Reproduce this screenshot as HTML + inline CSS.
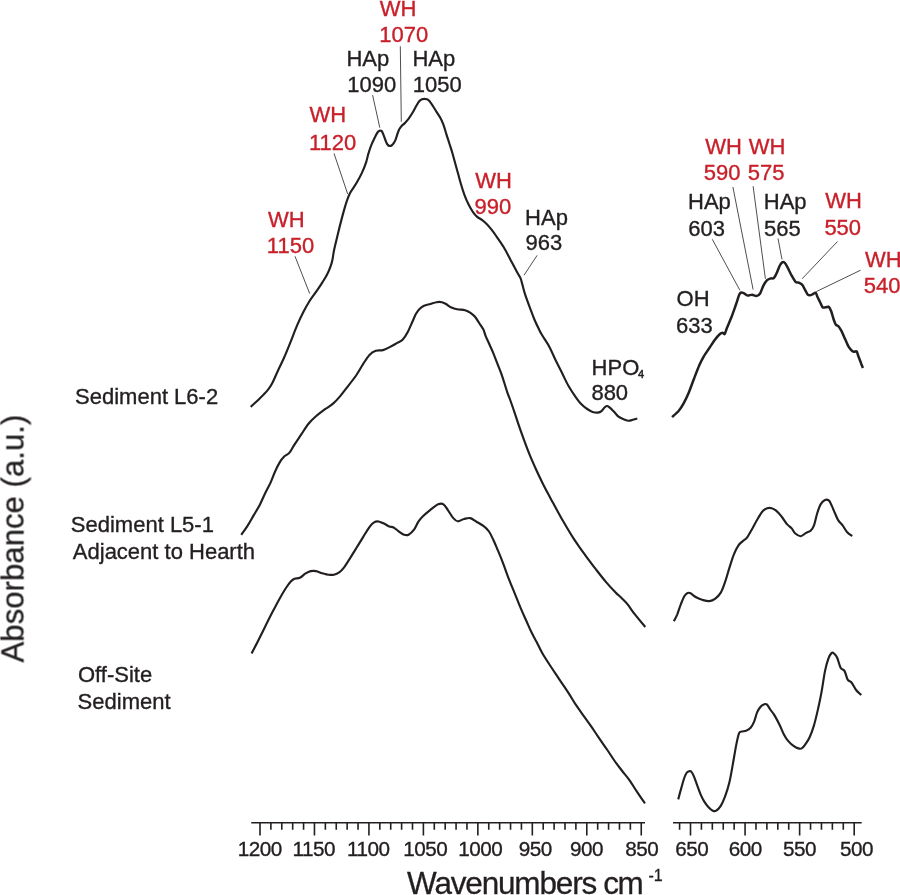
<!DOCTYPE html>
<html><head><meta charset="utf-8"><title>FTIR spectra</title>
<style>
html,body{margin:0;padding:0;background:#fff;}
body{width:900px;height:895px;overflow:hidden;font-family:"Liberation Sans",sans-serif;}
svg{display:block;}
.t{font-family:"Liberation Sans",sans-serif;}
.tick{font-size:20.7px;fill:#231f20;stroke:#231f20;stroke-width:0.35px;letter-spacing:-0.5px;}
.lab{font-size:22px;stroke-width:0.35px;}
</style></head><body>
<svg width="900" height="895" viewBox="0 0 900 895">
<rect width="900" height="895" fill="#fff"/>
<g opacity="0.999">
<path d="M251.25 822.8H645.00M260.00 822.8v12.6M270.89 822.8v7.0M281.79 822.8v7.0M292.68 822.8v7.0M303.57 822.8v7.0M314.46 822.8v12.6M325.36 822.8v7.0M336.25 822.8v7.0M347.14 822.8v7.0M358.04 822.8v7.0M368.93 822.8v12.6M379.82 822.8v7.0M390.71 822.8v7.0M401.61 822.8v7.0M412.50 822.8v7.0M423.39 822.8v12.6M434.29 822.8v7.0M445.18 822.8v7.0M456.07 822.8v7.0M466.96 822.8v7.0M477.86 822.8v12.6M488.75 822.8v7.0M499.64 822.8v7.0M510.54 822.8v7.0M521.43 822.8v7.0M532.32 822.8v12.6M543.21 822.8v7.0M554.11 822.8v7.0M565.00 822.8v7.0M575.89 822.8v7.0M586.79 822.8v12.6M597.68 822.8v7.0M608.57 822.8v7.0M619.46 822.8v7.0M630.36 822.8v7.0M641.25 822.8v12.6" fill="none" stroke="#231f20" stroke-width="1.6"/>
<path d="M673.00 822.8H861.70M679.59 822.8v7.0M690.50 822.8v12.6M701.41 822.8v7.0M712.33 822.8v7.0M723.24 822.8v7.0M734.15 822.8v7.0M745.07 822.8v12.6M755.98 822.8v7.0M766.89 822.8v7.0M777.81 822.8v7.0M788.72 822.8v7.0M799.63 822.8v12.6M810.55 822.8v7.0M821.46 822.8v7.0M832.37 822.8v7.0M843.29 822.8v7.0M854.20 822.8v12.6" fill="none" stroke="#231f20" stroke-width="1.6"/>
<text x="259.65" y="855.5" text-anchor="middle" class="t tick">1200</text>
<text x="313.85" y="855.5" text-anchor="middle" class="t tick">1150</text>
<text x="368.35" y="855.5" text-anchor="middle" class="t tick">1100</text>
<text x="425.25" y="855.5" text-anchor="middle" class="t tick">1050</text>
<text x="480.25" y="855.5" text-anchor="middle" class="t tick">1000</text>
<text x="535.25" y="855.5" text-anchor="middle" class="t tick">950</text>
<text x="586.55" y="855.5" text-anchor="middle" class="t tick">900</text>
<text x="641.65" y="855.5" text-anchor="middle" class="t tick">850</text>
<text x="691.65" y="855.5" text-anchor="middle" class="t tick">650</text>
<text x="745.35" y="855.5" text-anchor="middle" class="t tick">600</text>
<text x="799.55" y="855.5" text-anchor="middle" class="t tick">550</text>
<text x="856.45" y="855.5" text-anchor="middle" class="t tick">500</text>
<text x="379.67" y="16.0" class="t lab" fill="#c8202a" stroke="#c8202a">WH</text>
<text x="379.27" y="41.9" class="t lab" fill="#c8202a" stroke="#c8202a">1070</text>
<text x="346.41" y="66.0" class="t lab" fill="#231f20" stroke="#231f20">HAp</text>
<text x="347.22" y="92.0" class="t lab" fill="#231f20" stroke="#231f20">1090</text>
<text x="412.41" y="66.0" class="t lab" fill="#231f20" stroke="#231f20">HAp</text>
<text x="412.72" y="92.0" class="t lab" fill="#231f20" stroke="#231f20">1050</text>
<text x="309.62" y="122.4" class="t lab" fill="#c8202a" stroke="#c8202a">WH</text>
<text x="308.92" y="149.8" class="t lab" fill="#c8202a" stroke="#c8202a">1120</text>
<text x="268.12" y="227.1" class="t lab" fill="#c8202a" stroke="#c8202a">WH</text>
<text x="266.82" y="252.8" class="t lab" fill="#c8202a" stroke="#c8202a">1150</text>
<text x="475.22" y="188.1" class="t lab" fill="#c8202a" stroke="#c8202a">WH</text>
<text x="474.41" y="214.4" class="t lab" fill="#c8202a" stroke="#c8202a">990</text>
<text x="525.11" y="225.2" class="t lab" fill="#231f20" stroke="#231f20">HAp</text>
<text x="525.41" y="249.6" class="t lab" fill="#231f20" stroke="#231f20">963</text>
<text x="591.40" y="400.3" class="t lab" fill="#231f20" stroke="#231f20">880</text>
<text x="705.17" y="153.6" class="t lab" fill="#c8202a" stroke="#c8202a">WH</text>
<text x="703.69" y="180.3" class="t lab" fill="#c8202a" stroke="#c8202a">590</text>
<text x="748.72" y="153.6" class="t lab" fill="#c8202a" stroke="#c8202a">WH</text>
<text x="747.87" y="180.3" class="t lab" fill="#c8202a" stroke="#c8202a">575</text>
<text x="688.06" y="209.3" class="t lab" fill="#231f20" stroke="#231f20">HAp</text>
<text x="688.37" y="235.6" class="t lab" fill="#231f20" stroke="#231f20">603</text>
<text x="763.81" y="209.3" class="t lab" fill="#231f20" stroke="#231f20">HAp</text>
<text x="763.97" y="235.6" class="t lab" fill="#231f20" stroke="#231f20">565</text>
<text x="825.27" y="207.9" class="t lab" fill="#c8202a" stroke="#c8202a">WH</text>
<text x="824.39" y="234.8" class="t lab" fill="#c8202a" stroke="#c8202a">550</text>
<text x="865.00" y="266.8" class="t lab" fill="#c8202a" stroke="#c8202a">WH</text>
<text x="863.82" y="293.1" class="t lab" fill="#c8202a" stroke="#c8202a">540</text>
<text x="676.53" y="306.3" class="t lab" fill="#231f20" stroke="#231f20">OH</text>
<text x="676.12" y="332.8" class="t lab" fill="#231f20" stroke="#231f20">633</text>
<text x="75.06" y="403.9" class="t lab" fill="#231f20" stroke="#231f20">Sediment L6-2</text>
<text x="70.84" y="532.2" class="t lab" fill="#231f20" stroke="#231f20">Sediment L5-1</text>
<text x="72.83" y="559.3" class="t lab" fill="#231f20" stroke="#231f20">Adjacent to Hearth</text>
<text x="77.98" y="682.1" class="t lab" fill="#231f20" stroke="#231f20">Off-Site</text>
<text x="77.61" y="709.1" class="t lab" fill="#231f20" stroke="#231f20">Sediment</text>
<text x="591.60" y="375.2" class="t lab" fill="#231f20" stroke="#231f20">HPO<tspan font-size="11" dy="2.9" dx="-1.4" stroke-width="0.5">4</tspan></text>
<path d="M400.3 46.3L401.3 121.7M372.6 95.1L379.8 127.7M334 153.4L347.7 194M295 256.3L309.7 293.6M537.1 255.4L524 275.2M712.3 239.3L739.9 290.3M732.9 187L753.1 289.5M753.1 186.2L765.4 278.8M778 238.5L782 259.4M837.5 241.5L802.1 278.8M860.6 270.2L816.3 291.6" fill="none" stroke="#231f20" stroke-width="0.8"/>
<text x="407" y="893.8" class="t" font-size="31.5" textLength="190.2" lengthAdjust="spacing" fill="#231f20" stroke="#231f20" stroke-width="0.3">Wavenumbers</text>
<text x="603.3" y="893.8" class="t" font-size="31.5" textLength="40.5" lengthAdjust="spacing" fill="#231f20" stroke="#231f20" stroke-width="0.3">cm</text>
<text x="648.5" y="880.5" class="t" font-size="16" fill="#231f20" stroke="#231f20" stroke-width="0.3">-1</text>
<text transform="translate(23.5 662.5) rotate(-90)" class="t" font-size="31.2" fill="#231f20" stroke="#231f20" stroke-width="0.3">Absorbance (a.u.)</text>
<path d="M250.7 406.9C252.2 405.5 256.9 401.3 259.7 398.5C262.5 395.7 265.6 392.6 267.7 390.1C269.8 387.6 270.6 386.4 272.2 383.3C273.8 380.2 275.6 375.9 277.5 371.7C279.4 367.5 281.7 363.1 283.8 358.3C285.9 353.5 287.9 348.6 290.1 343.1C292.3 337.6 295.0 330.4 297.2 325.2C299.4 320.0 301.4 315.9 303.5 311.8C305.6 307.7 307.8 303.9 309.7 300.8C311.6 297.7 313.2 295.9 315.1 293.1C317.0 290.3 319.4 287.1 321.3 284.1C323.2 281.1 325.2 278.0 326.7 275.2C328.2 272.4 329.4 269.7 330.3 267.2C331.2 264.7 331.8 262.9 332.4 260.0C333.0 257.1 333.2 254.2 334.1 250.0C335.0 245.8 336.4 240.3 337.7 234.8C339.0 229.3 340.7 222.4 342.2 216.9C343.7 211.4 345.3 205.7 346.6 201.7C347.9 197.7 348.6 195.9 350.2 192.8C351.8 189.7 354.6 186.3 356.5 183.0C358.4 179.7 360.2 176.5 361.8 173.1C363.4 169.7 365.0 165.6 366.1 162.3C367.2 159.1 367.5 156.5 368.4 153.6C369.3 150.7 370.3 147.6 371.4 144.9C372.5 142.2 373.8 139.6 374.8 137.5C375.8 135.4 376.7 133.6 377.5 132.5C378.3 131.4 378.8 131.1 379.5 130.8C380.2 130.5 380.9 130.4 381.5 130.9C382.1 131.4 382.6 132.7 383.2 134.1C383.8 135.5 384.5 137.8 385.2 139.5C385.9 141.2 386.5 143.1 387.2 144.2C387.9 145.3 388.5 145.7 389.2 145.9C389.9 146.1 390.7 146.0 391.5 145.5C392.3 145.0 393.2 143.9 393.9 142.8C394.6 141.7 395.3 140.4 395.9 138.8C396.5 137.2 397.0 135.1 397.6 133.5C398.2 131.9 398.7 130.2 399.4 129.0C400.1 127.8 400.6 127.0 401.6 126.0C402.6 125.0 404.1 123.9 405.2 122.7C406.3 121.5 407.3 120.4 408.5 118.8C409.7 117.2 410.9 115.5 412.2 113.3C413.5 111.1 415.3 107.5 416.5 105.5C417.7 103.5 418.3 102.3 419.2 101.3C420.1 100.3 421.1 99.7 422.0 99.3C422.9 98.9 423.4 98.9 424.3 98.9C425.2 98.9 426.2 98.9 427.1 99.2C428.0 99.5 428.5 100.0 429.4 101.0C430.3 102.0 431.3 103.5 432.5 105.3C433.7 107.1 435.1 109.5 436.4 111.6C437.7 113.7 439.1 115.6 440.3 117.8C441.5 120.0 442.5 122.3 443.5 124.9C444.5 127.5 445.2 130.6 446.2 133.6C447.1 136.6 448.2 139.8 449.2 143.0C450.2 146.2 451.3 149.2 452.3 152.7C453.3 156.2 454.4 160.3 455.4 164.0C456.4 167.7 457.4 171.2 458.4 174.8C459.4 178.4 460.3 181.9 461.3 185.3C462.3 188.7 463.4 192.1 464.6 195.3C465.8 198.5 467.1 201.5 468.5 204.3C469.9 207.1 471.6 210.1 473.0 212.1C474.4 214.1 475.4 215.3 476.9 216.6C478.4 217.9 480.3 218.7 481.9 219.9C483.5 221.1 484.9 222.3 486.4 223.8C487.9 225.3 489.4 227.0 490.9 228.9C492.4 230.8 493.4 232.0 495.5 235.0C497.6 238.0 501.1 242.8 503.6 247.0C506.2 251.2 508.6 256.2 510.8 260.4C513.0 264.6 515.4 269.1 517.0 272.1C518.6 275.1 519.7 276.2 520.6 278.3C521.5 280.4 521.6 281.9 522.4 284.6C523.1 287.3 523.9 290.7 525.1 294.4C526.3 298.1 528.1 302.9 529.6 306.9C531.1 310.9 532.4 314.6 534.0 318.5C535.6 322.4 538.0 327.3 539.4 330.2C540.8 333.1 540.8 332.9 542.5 335.8C544.2 338.7 547.5 343.2 549.7 347.4C551.9 351.6 553.8 356.5 555.9 360.8C558.0 365.1 560.1 369.1 562.2 373.3C564.3 377.5 566.3 382.1 568.4 385.8C570.5 389.5 572.6 392.6 574.7 395.6C576.8 398.6 578.8 401.5 580.9 403.7C583.0 405.9 585.2 407.6 587.2 409.0C589.2 410.4 590.8 411.3 592.6 411.9C594.4 412.5 596.4 412.7 597.9 412.6C599.4 412.5 600.4 412.1 601.5 411.2C602.6 410.3 603.8 408.2 604.7 407.3C605.7 406.4 606.2 405.9 607.2 406.0C608.2 406.1 609.3 407.2 610.4 408.2C611.5 409.1 612.6 410.3 614.0 411.7C615.4 413.1 617.0 415.4 618.5 416.6C620.0 417.8 621.4 418.2 623.0 418.9C624.6 419.6 626.7 420.5 628.3 420.7C629.9 420.9 631.3 420.2 632.8 419.8C634.3 419.4 636.5 418.7 637.3 418.5" fill="none" stroke="#231f20" stroke-width="2.15" stroke-linejoin="round" stroke-linecap="butt"/>
<path d="M672.1 417.1C672.8 416.4 677.3 412.5 678.6 411.0C679.9 409.5 682.4 405.7 683.5 403.7C684.6 401.7 687.4 395.8 688.6 393.0C689.8 390.2 692.8 381.8 694.0 378.7C695.2 375.6 698.2 367.8 699.3 365.3C700.4 362.8 702.7 358.3 703.8 356.4C704.9 354.5 708.0 350.1 709.2 348.3C710.4 346.5 713.3 341.9 714.5 340.3C715.7 338.7 719.0 334.8 719.9 334.0C720.8 333.2 722.1 332.8 722.6 332.8C723.1 332.8 724.2 334.6 724.7 334.0C725.2 333.4 726.2 329.7 727.0 327.8C727.8 325.9 730.5 319.6 731.5 317.0C732.5 314.4 735.1 307.0 736.0 304.5C736.9 302.0 738.6 296.0 739.2 294.7C739.8 293.4 740.8 292.7 741.3 292.5C741.8 292.3 743.3 293.0 744.0 293.3C744.7 293.6 746.7 295.4 747.6 295.6C748.5 295.8 751.1 294.6 752.1 294.7C753.1 294.8 755.6 296.2 756.5 296.1C757.4 296.0 759.3 294.7 760.1 293.5C760.9 292.3 762.6 287.1 763.4 285.6C764.2 284.1 766.3 281.0 767.1 280.2C767.9 279.4 770.2 278.6 770.9 278.4C771.6 278.2 773.2 278.8 773.8 278.2C774.4 277.6 776.1 274.5 776.7 273.1C777.3 271.7 779.0 267.2 779.6 266.0C780.2 264.8 781.6 262.8 782.2 262.4C782.8 262.0 784.0 262.1 784.6 262.6C785.2 263.1 786.8 265.8 787.5 267.2C788.2 268.6 790.4 273.4 791.3 275.0C792.2 276.6 794.6 280.9 795.5 281.8C796.4 282.7 798.5 282.4 799.3 282.8C800.1 283.2 802.0 284.4 802.6 285.2C803.2 286.0 804.5 289.0 805.1 290.0C805.7 291.0 807.1 293.9 807.6 294.5C808.1 295.1 809.5 295.3 810.0 295.3C810.5 295.3 811.6 294.8 812.2 294.5C812.8 294.2 815.1 292.6 815.7 292.8C816.3 293.0 816.8 295.5 817.3 296.6C817.8 297.7 819.5 301.1 820.1 302.3C820.7 303.5 822.0 306.7 822.6 307.3C823.2 307.9 825.0 307.3 825.7 307.3C826.4 307.3 828.2 306.5 828.8 306.9C829.4 307.3 830.7 309.9 831.2 311.2C831.7 312.5 833.0 317.5 833.5 319.0C834.0 320.5 835.4 324.0 835.9 324.8C836.4 325.6 837.6 325.3 838.2 326.0C838.8 326.7 840.5 329.2 841.3 330.7C842.1 332.2 844.4 337.6 845.2 339.3C846.0 341.0 847.7 345.2 848.4 346.4C849.1 347.6 850.9 349.7 851.5 350.3C852.1 350.9 853.3 351.7 853.9 351.8C854.5 351.9 856.2 351.0 856.7 351.4C857.2 351.8 857.7 354.5 858.2 355.8C858.7 357.1 860.4 361.4 860.9 362.8C861.4 364.2 862.7 367.4 862.9 368.0" fill="none" stroke="#231f20" stroke-width="2.5" stroke-linejoin="round" stroke-linecap="butt"/>
<path d="M241.3 534.8C242.3 533.3 245.4 529.2 247.5 525.9C249.6 522.6 251.7 518.7 253.8 515.1C255.9 511.5 258.1 508.1 260.0 504.4C261.9 500.7 263.6 496.5 265.4 492.8C267.2 489.1 269.2 485.7 270.8 482.1C272.4 478.5 273.7 474.6 275.2 471.3C276.7 468.0 278.2 464.9 279.7 462.4C281.2 459.9 282.6 458.1 284.2 456.5C285.8 454.9 287.9 454.5 289.5 452.6C291.1 450.8 292.1 448.4 294.0 445.4C295.9 442.4 298.7 438.3 301.1 434.7C303.5 431.1 305.9 427.0 308.3 424.0C310.7 421.0 312.7 419.2 315.4 416.8C318.1 414.4 321.4 411.9 324.4 409.7C327.4 407.5 330.7 405.7 333.3 403.4C335.9 401.1 337.9 398.8 340.2 396.1C342.5 393.4 344.5 390.5 347.2 387.1C349.9 383.7 353.4 379.4 356.1 375.5C358.8 371.6 361.0 367.3 363.2 363.9C365.4 360.5 367.4 357.1 369.5 354.9C371.6 352.7 373.6 351.6 375.8 350.8C378.0 350.0 380.5 350.8 382.9 350.1C385.3 349.5 387.7 348.1 390.1 346.9C392.5 345.7 395.1 344.1 397.2 342.9C399.3 341.7 400.8 341.6 402.6 339.7C404.4 337.8 406.3 334.7 407.9 331.7C409.5 328.7 411.0 324.8 412.4 321.8C413.8 318.8 414.8 315.9 416.0 313.8C417.2 311.7 418.2 310.3 419.5 309.0C420.8 307.7 422.2 306.6 424.0 305.8C425.8 305.0 428.2 304.6 430.3 304.0C432.4 303.4 434.6 302.5 436.5 302.2C438.4 301.9 440.2 301.8 441.9 302.2C443.5 302.6 444.9 303.5 446.4 304.3C447.9 305.1 449.0 306.4 450.8 307.2C452.6 308.0 454.7 308.8 457.1 309.3C459.5 309.8 462.9 309.6 465.1 310.2C467.3 310.8 468.9 311.8 470.5 312.9C472.1 314.0 473.5 315.0 475.0 316.8C476.5 318.6 478.1 321.4 479.5 323.5C480.9 325.6 482.4 327.6 483.4 329.6C484.4 331.7 484.6 333.3 485.6 335.8C486.6 338.3 488.3 341.7 489.6 344.7C490.9 347.7 492.2 350.4 493.5 353.6C494.8 356.8 496.1 360.4 497.4 363.7C498.7 367.0 500.1 370.3 501.3 373.7C502.5 377.1 503.6 380.6 504.6 383.8C505.6 387.0 506.5 390.0 507.4 392.7C508.3 395.4 509.1 397.0 510.2 400.0C511.3 403.0 512.6 406.8 514.0 410.8C515.4 414.8 516.8 419.4 518.4 424.2C520.0 429.0 522.0 434.5 523.8 439.4C525.6 444.3 527.3 448.9 529.2 453.7C531.1 458.5 533.2 463.1 535.4 468.0C537.6 472.9 540.1 478.1 542.6 483.2C545.1 488.3 548.7 494.7 550.6 498.4C552.5 502.1 552.2 501.4 554.3 505.2C556.4 509.0 559.9 515.6 563.2 521.3C566.5 527.0 570.4 533.7 574.0 539.2C577.6 544.7 581.1 549.5 584.7 554.4C588.3 559.3 591.8 564.1 595.4 568.7C599.0 573.3 602.8 578.2 606.1 582.1C609.4 586.0 612.4 589.1 615.1 591.9C617.8 594.7 620.1 596.6 622.2 598.7C624.3 600.8 625.5 601.8 627.6 604.4C629.7 607.0 631.8 610.4 634.7 614.2C637.7 618.0 643.5 624.9 645.3 627.0" fill="none" stroke="#231f20" stroke-width="2.15" stroke-linejoin="round" stroke-linecap="butt"/>
<path d="M673.9 621.3C674.5 620.1 676.1 617.1 677.3 614.3C678.4 611.5 679.6 607.4 680.8 604.4C682.0 601.4 683.2 598.1 684.3 596.2C685.4 594.3 686.5 593.4 687.6 592.9C688.7 592.4 689.2 592.6 690.6 593.3C692.0 594.0 694.1 596.2 696.1 597.3C698.1 598.4 700.6 599.4 702.8 600.0C705.0 600.6 707.4 601.3 709.4 601.1C711.4 600.9 713.1 600.3 715.0 598.9C716.9 597.5 718.9 595.7 720.6 592.9C722.3 590.1 723.5 586.4 725.0 582.2C726.5 578.0 727.9 572.4 729.4 567.8C730.9 563.2 732.4 558.1 733.9 554.4C735.4 550.7 736.8 547.8 738.3 545.6C739.8 543.4 741.3 542.5 742.8 541.1C744.3 539.7 745.5 539.5 747.2 537.3C748.9 535.1 750.9 531.0 752.8 527.8C754.6 524.5 756.6 520.6 758.3 517.8C760.0 515.0 761.3 512.7 762.8 511.1C764.3 509.5 765.7 508.7 767.2 508.2C768.7 507.7 770.2 507.8 771.7 508.2C773.2 508.6 774.4 509.3 776.1 510.7C777.8 512.1 779.9 514.4 781.7 516.7C783.6 519.0 785.5 522.5 787.2 524.4C788.9 526.3 790.4 526.9 791.7 528.4C793.0 529.9 793.5 532.0 795.0 533.3C796.5 534.6 798.8 536.3 800.6 536.2C802.5 536.1 804.4 533.8 806.1 532.9C807.8 532.0 809.3 531.9 810.6 530.7C811.9 529.5 812.8 528.5 813.9 525.6C815.0 522.7 816.1 516.8 817.2 513.3C818.3 509.8 819.3 506.6 820.6 504.4C821.9 502.2 823.6 500.6 825.0 500.0C826.4 499.4 827.9 499.8 829.0 500.7C830.1 501.6 830.7 503.5 831.7 505.6C832.7 507.7 833.9 510.8 835.0 513.3C836.1 515.8 837.0 518.3 838.3 520.4C839.6 522.5 841.3 523.6 842.8 525.6C844.3 527.6 845.6 530.5 847.2 532.2C848.8 533.9 851.4 535.4 852.3 536.0" fill="none" stroke="#231f20" stroke-width="2.15" stroke-linejoin="round" stroke-linecap="butt"/>
<path d="M251.6 653.4C252.6 651.4 255.7 645.6 257.9 641.2C260.1 636.8 262.6 631.7 265.0 626.9C267.4 622.1 269.8 617.2 272.2 612.6C274.6 608.0 277.1 603.2 279.3 599.2C281.5 595.2 283.7 591.5 285.6 588.5C287.6 585.5 289.5 582.9 291.0 581.3C292.5 579.7 293.0 579.3 294.5 578.7C296.0 578.1 298.1 578.6 299.9 577.8C301.7 577.0 303.4 574.8 305.2 573.7C307.0 572.6 308.8 571.5 310.6 571.1C312.4 570.7 314.1 570.7 316.0 571.1C317.9 571.5 320.1 572.7 322.2 573.3C324.3 573.9 326.6 574.5 328.5 574.7C330.4 574.9 332.1 575.1 333.9 574.7C335.7 574.3 337.6 573.5 339.2 572.4C340.8 571.3 342.1 570.0 343.7 567.9C345.3 565.8 346.9 563.2 349.0 559.9C351.1 556.6 353.8 552.2 356.2 548.3C358.6 544.4 361.2 540.2 363.4 536.6C365.6 533.0 367.8 529.2 369.6 526.8C371.4 524.4 372.6 523.2 374.1 522.3C375.6 521.4 376.9 521.3 378.5 521.5C380.1 521.7 382.1 522.8 383.9 523.6C385.7 524.4 387.7 525.9 389.3 526.5C390.9 527.1 392.0 526.7 393.6 527.5C395.2 528.3 397.1 530.3 398.8 531.5C400.6 532.7 402.5 534.2 404.1 534.7C405.7 535.2 407.0 535.5 408.6 534.7C410.2 533.9 412.4 531.9 414.0 529.7C415.6 527.5 416.9 523.9 418.4 521.7C419.9 519.5 420.9 518.2 422.9 516.3C424.8 514.4 427.6 512.1 430.1 510.1C432.6 508.1 435.9 505.3 438.1 504.3C440.3 503.3 441.9 503.3 443.5 504.3C445.1 505.3 446.3 507.8 447.9 510.1C449.5 512.4 451.6 516.2 453.3 518.1C455.0 520.0 456.0 521.1 457.8 521.3C459.6 521.4 461.9 519.5 464.0 519.0C466.1 518.5 468.2 517.6 470.3 518.1C472.4 518.6 474.3 520.4 476.5 521.7C478.7 523.0 481.6 524.5 483.7 526.1C485.8 527.7 487.4 529.2 489.0 531.5C490.6 533.8 491.9 536.8 493.4 540.0C494.9 543.2 496.3 546.7 498.0 550.7C499.7 554.7 501.6 559.4 503.4 564.1C505.2 568.8 506.9 574.0 508.8 578.9C510.7 583.8 512.8 588.7 514.8 593.6C516.8 598.5 518.9 603.9 520.8 608.4C522.7 612.9 524.4 616.5 526.2 620.5C528.0 624.5 529.8 628.9 531.6 632.5C533.4 636.1 535.0 638.9 536.8 642.3C538.5 645.7 539.9 648.8 542.1 652.7C544.3 656.6 547.2 661.0 550.1 665.5C553.0 670.0 556.4 674.9 559.5 679.6C562.6 684.3 566.2 689.5 568.9 693.6C571.6 697.7 573.1 700.7 575.6 704.4C578.1 708.1 580.9 712.0 583.6 715.8C586.3 719.6 589.2 723.5 591.7 727.2C594.2 730.9 596.4 734.1 598.9 737.8C601.4 741.5 604.4 745.7 607.0 749.5C609.6 753.3 611.8 756.9 614.3 760.5C616.8 764.1 619.7 767.7 622.2 771.0C624.8 774.3 627.2 776.8 629.6 780.3C632.0 783.8 634.3 787.9 636.9 791.7C639.5 795.6 643.6 801.5 645.0 803.4" fill="none" stroke="#231f20" stroke-width="2.15" stroke-linejoin="round" stroke-linecap="butt"/>
<path d="M678.2 799.4C678.7 797.6 680.2 791.8 681.2 788.4C682.2 785.0 683.0 781.6 683.9 779.0C684.8 776.4 685.6 774.3 686.5 773.0C687.4 771.7 688.2 771.4 689.0 771.2C689.8 771.0 690.4 770.8 691.2 771.6C692.0 772.5 692.9 773.9 693.9 776.3C694.9 778.6 696.2 782.7 697.3 785.7C698.4 788.7 699.5 791.8 700.6 794.4C701.7 797.0 702.7 799.0 704.0 801.1C705.3 803.2 706.8 805.3 708.3 806.9C709.8 808.5 711.5 810.1 712.8 810.7C714.1 811.3 714.8 811.5 716.1 810.7C717.4 810.0 719.1 808.5 720.6 806.2C722.1 803.9 723.5 800.7 725.0 796.7C726.5 792.7 728.1 787.6 729.4 782.2C730.7 776.8 731.7 770.5 732.8 764.4C733.9 758.3 735.1 750.8 736.1 745.6C737.1 740.4 738.1 735.6 739.0 733.3C739.9 731.0 740.5 732.0 741.7 731.6C742.9 731.2 744.6 731.3 746.1 730.7C747.6 730.1 749.3 729.2 750.6 727.8C751.9 726.4 752.8 724.8 753.9 722.2C755.0 719.6 756.1 714.8 757.2 712.2C758.3 709.6 759.5 708.0 760.6 706.7C761.7 705.4 762.9 704.8 763.9 704.4C764.9 704.0 765.7 703.5 766.8 704.4C767.9 705.3 769.4 708.3 770.6 710.0C771.8 711.7 772.4 712.0 773.9 714.4C775.4 716.8 777.7 721.1 779.4 724.4C781.1 727.7 782.4 731.6 783.9 734.4C785.4 737.2 786.6 739.1 788.3 741.1C790.0 743.1 792.2 745.0 793.9 746.2C795.6 747.4 797.0 748.0 798.3 748.4C799.6 748.8 800.6 749.0 801.7 748.4C802.8 747.8 803.7 746.7 805.0 744.9C806.3 743.1 807.9 741.0 809.4 737.8C810.9 734.6 812.4 730.6 813.9 725.6C815.4 720.6 817.0 713.5 818.3 707.8C819.6 702.0 820.6 697.2 821.7 691.1C822.8 685.0 823.9 676.5 825.0 671.1C826.1 665.7 827.2 661.9 828.3 658.9C829.4 655.9 830.7 653.8 831.7 652.9C832.7 652.0 833.4 653.0 834.3 653.8C835.2 654.6 836.2 655.5 837.2 657.8C838.2 660.1 839.4 665.6 840.6 667.8C841.8 670.0 843.4 669.1 844.6 671.1C845.8 673.1 846.5 677.7 847.7 679.6C848.9 681.5 850.3 681.0 851.7 682.7C853.1 684.4 854.5 687.9 856.1 690.0C857.7 692.1 860.4 694.2 861.2 695.1" fill="none" stroke="#231f20" stroke-width="2.15" stroke-linejoin="round" stroke-linecap="butt"/>
</g>
</svg>
</body></html>
